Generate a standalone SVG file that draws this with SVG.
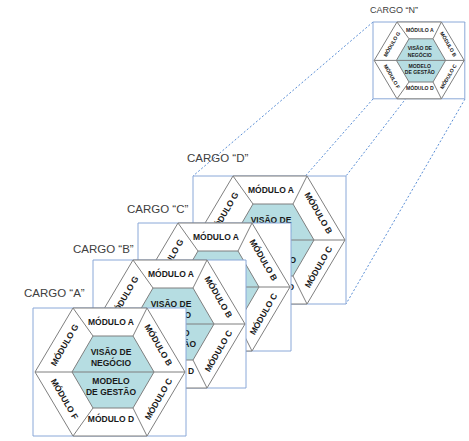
<svg xmlns="http://www.w3.org/2000/svg" width="469" height="441" viewBox="0 0 469 441">
<style>
.bg{fill:#ffffff}
.frame{fill:#ffffff;stroke:#8aa8d8;stroke-width:1;vector-effect:non-scaling-stroke}
.hex{fill:#ffffff;stroke:#7f7f7f;stroke-width:1;vector-effect:non-scaling-stroke}
.core{fill:#b6dde2;stroke:#7f7f7f;stroke-width:1;vector-effect:non-scaling-stroke}
.ln{fill:none;stroke:#7f7f7f;stroke-width:1;vector-effect:non-scaling-stroke}
.t{font-family:"Liberation Sans",Arial,sans-serif;font-weight:bold;font-size:8.5px;fill:#1a1a1a;text-anchor:middle}
.cargo{font-family:"Liberation Sans",Arial,sans-serif;font-size:11.5px;fill:#404040}
.dash{fill:none;stroke:#5b8fd6;stroke-width:1;stroke-dasharray:2 2}
</style>
<rect class="bg" x="0" y="0" width="469" height="441"/>
<g id="connectors">
<line class="dash" x1="373" y1="22" x2="193" y2="176"/>
<line class="dash" x1="465" y1="22" x2="346" y2="176"/>
<line class="dash" x1="373" y1="99" x2="193" y2="304"/>
<line class="dash" x1="465" y1="99" x2="346" y2="304"/>
</g>

<g id="cargo-d">
<text class="cargo" x="187" y="162">CARGO “D”</text>
<g transform="translate(193,176)">
<rect class="frame" x="0" y="0" width="153" height="128"/>
<polygon class="hex" points="2,64 40,0 114,0 152,64 114,128 40,128"/>
<polygon class="core" points="39,64 60,28 100,28 121,64 100,100 60,100"/>
<path class="ln" d="M2,64H152M40,0L60,28M114,0L100,28M40,128L60,100M114,128L100,100"/>
<text class="t" x="78" y="17">MÓDULO A</text>
<text class="t" x="78" y="47">VISÃO DE</text>
<text class="t" x="78" y="57.5">NEGÓCIO</text>
<text class="t" x="78" y="76">MODELO</text>
<text class="t" x="78" y="86.5">DE GESTÃO</text>
<text class="t" x="78" y="114">MÓDULO D</text>
<text class="t" transform="translate(31.5,37) rotate(-60)" x="0" y="3">MÓDULO G</text>
<text class="t" transform="translate(125.5,37) rotate(60)" x="0" y="3">MÓDULO B</text>
<text class="t" transform="translate(125.5,91) rotate(-60)" x="0" y="3">MÓDULO C</text>
<text class="t" transform="translate(31.5,91) rotate(60)" x="0" y="3">MÓDULO F</text>
</g>
</g>

<g id="cargo-c">
<text class="cargo" x="127" y="213">CARGO “C”</text>
<g transform="translate(138,223)">
<rect class="frame" x="0" y="0" width="153" height="128"/>
<polygon class="hex" points="2,64 40,0 114,0 152,64 114,128 40,128"/>
<polygon class="core" points="39,64 60,28 100,28 121,64 100,100 60,100"/>
<path class="ln" d="M2,64H152M40,0L60,28M114,0L100,28M40,128L60,100M114,128L100,100"/>
<text class="t" x="78" y="17">MÓDULO A</text>
<text class="t" x="78" y="47">VISÃO DE</text>
<text class="t" x="78" y="57.5">NEGÓCIO</text>
<text class="t" x="78" y="76">MODELO</text>
<text class="t" x="78" y="86.5">DE GESTÃO</text>
<text class="t" x="78" y="114">MÓDULO D</text>
<text class="t" transform="translate(31.5,37) rotate(-60)" x="0" y="3">MÓDULO G</text>
<text class="t" transform="translate(125.5,37) rotate(60)" x="0" y="3">MÓDULO B</text>
<text class="t" transform="translate(125.5,91) rotate(-60)" x="0" y="3">MÓDULO C</text>
<text class="t" transform="translate(31.5,91) rotate(60)" x="0" y="3">MÓDULO F</text>
</g>
</g>

<g id="cargo-b">
<text class="cargo" x="73" y="253">CARGO “B”</text>
<g transform="translate(93,260)">
<rect class="frame" x="0" y="0" width="153" height="128"/>
<polygon class="hex" points="2,64 40,0 114,0 152,64 114,128 40,128"/>
<polygon class="core" points="39,64 60,28 100,28 121,64 100,100 60,100"/>
<path class="ln" d="M2,64H152M40,0L60,28M114,0L100,28M40,128L60,100M114,128L100,100"/>
<text class="t" x="78" y="17">MÓDULO A</text>
<text class="t" x="78" y="47">VISÃO DE</text>
<text class="t" x="78" y="57.5">NEGÓCIO</text>
<text class="t" x="78" y="76">MODELO</text>
<text class="t" x="78" y="86.5">DE GESTÃO</text>
<text class="t" x="78" y="114">MÓDULO D</text>
<text class="t" transform="translate(31.5,37) rotate(-60)" x="0" y="3">MÓDULO G</text>
<text class="t" transform="translate(125.5,37) rotate(60)" x="0" y="3">MÓDULO B</text>
<text class="t" transform="translate(125.5,91) rotate(-60)" x="0" y="3">MÓDULO C</text>
<text class="t" transform="translate(31.5,91) rotate(60)" x="0" y="3">MÓDULO F</text>
</g>
</g>

<g id="cargo-a">
<text class="cargo" x="24" y="297">CARGO “A”</text>
<g transform="translate(33,308)">
<rect class="frame" x="0" y="0" width="153" height="128"/>
<polygon class="hex" points="2,64 40,0 114,0 152,64 114,128 40,128"/>
<polygon class="core" points="39,64 60,28 100,28 121,64 100,100 60,100"/>
<path class="ln" d="M2,64H152M40,0L60,28M114,0L100,28M40,128L60,100M114,128L100,100"/>
<text class="t" x="78" y="17">MÓDULO A</text>
<text class="t" x="78" y="47">VISÃO DE</text>
<text class="t" x="78" y="57.5">NEGÓCIO</text>
<text class="t" x="78" y="76">MODELO</text>
<text class="t" x="78" y="86.5">DE GESTÃO</text>
<text class="t" x="78" y="114">MÓDULO D</text>
<text class="t" transform="translate(31.5,37) rotate(-60)" x="0" y="3">MÓDULO G</text>
<text class="t" transform="translate(125.5,37) rotate(60)" x="0" y="3">MÓDULO B</text>
<text class="t" transform="translate(125.5,91) rotate(-60)" x="0" y="3">MÓDULO C</text>
<text class="t" transform="translate(31.5,91) rotate(60)" x="0" y="3">MÓDULO F</text>
</g>
</g>

<g id="cargo-n">
<text class="cargo" x="370" y="13" style="font-size:9px">CARGO “N”</text>
<g transform="translate(373,22) scale(0.6)">
<rect class="frame" x="0" y="0" width="153" height="128"/>
<polygon class="hex" points="2,64 40,0 114,0 152,64 114,128 40,128"/>
<polygon class="core" points="39,64 60,28 100,28 121,64 100,100 60,100"/>
<path class="ln" d="M2,64H152M40,0L60,28M114,0L100,28M40,128L60,100M114,128L100,100"/>
<text class="t" x="78" y="17">MÓDULO A</text>
<text class="t" x="78" y="47">VISÃO DE</text>
<text class="t" x="78" y="57.5">NEGÓCIO</text>
<text class="t" x="78" y="76">MODELO</text>
<text class="t" x="78" y="86.5">DE GESTÃO</text>
<text class="t" x="78" y="114">MÓDULO D</text>
<text class="t" transform="translate(31.5,37) rotate(-60)" x="0" y="3">MÓDULO G</text>
<text class="t" transform="translate(125.5,37) rotate(60)" x="0" y="3">MÓDULO B</text>
<text class="t" transform="translate(125.5,91) rotate(-60)" x="0" y="3">MÓDULO C</text>
<text class="t" transform="translate(31.5,91) rotate(60)" x="0" y="3">MÓDULO F</text>
</g>
</g>
</svg>
